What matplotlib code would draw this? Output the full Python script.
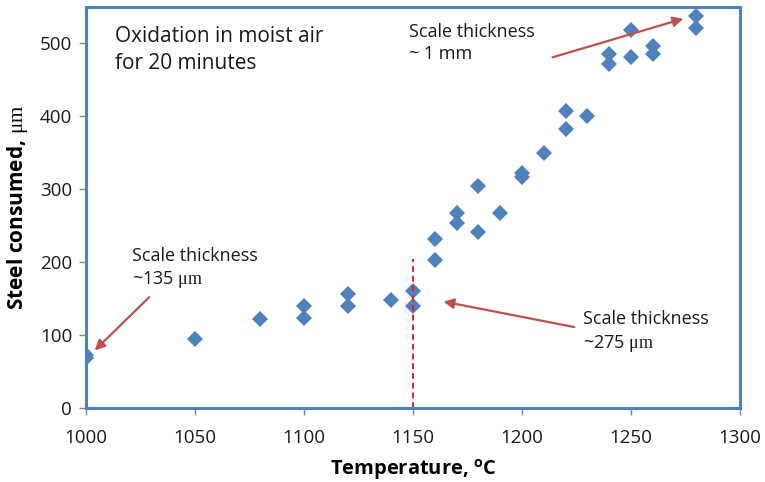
import matplotlib
matplotlib.use("Agg")
import matplotlib.pyplot as plt

# steel consumed vs oxidation temperature (20 min, moist air)
temp = [1000, 1000, 1050, 1080, 1100, 1100, 1120, 1120, 1140, 1150, 1150,
        1160, 1160, 1170, 1170, 1180, 1180, 1190, 1200, 1200, 1210,
        1220, 1220, 1230, 1240, 1240, 1250, 1250, 1260, 1260, 1280, 1280]
consumed = [68, 73, 94, 122, 140, 124, 156, 140, 148, 160, 140,
            232, 203, 268, 254, 304, 242, 268, 323, 317, 350,
            408, 382, 400, 486, 472, 519, 481, 497, 486, 538, 521]

xticks = [1000, 1050, 1100, 1150, 1200, 1250, 1300]
yticks = [0, 100, 200, 300, 400, 500]
transition_t = 1150
transition_top = 205

BLUE = "#4F81BD"
ARROW = "#C0504D"
DASH = "#E0242A"

plt.rcParams["font.family"] = ["Open Sans", "DejaVu Sans"]
plt.rcParams["mathtext.fontset"] = "custom"
plt.rcParams["mathtext.rm"] = "Liberation Serif"
plt.rcParams["mathtext.it"] = "Liberation Serif:italic"
plt.rcParams["mathtext.bf"] = "Open Sans:bold"

fig = plt.figure(figsize=(7.65, 4.82), dpi=100)
ax = fig.add_axes([0.1124, 0.1535, 0.8549, 0.832])

ax.plot(temp, consumed, "D", color=BLUE, markersize=8.5, markeredgewidth=0)
ax.plot([transition_t, transition_t], [0, transition_top], "--",
        color=DASH, lw=1.4, dashes=(3, 2))

ax.set_xlim(1000, 1300)
ax.set_ylim(0, 550)
ax.set_xticks(xticks)
ax.set_yticks(yticks)
for s in ax.spines.values():
    s.set_color(BLUE)
    s.set_linewidth(2.2)
ax.tick_params(direction="out", length=5, width=1, color="#888888",
               labelsize=13.5, labelcolor="#1a1a1a")
ax.tick_params(axis="x", pad=10)
ax.tick_params(axis="y", pad=5)

ax.set_xlabel(r"Temperature, $^{\mathbf{o}}$C", fontsize=14.5,
              fontweight="bold", labelpad=8)
ax.set_ylabel(r"Steel consumed, $\mathrm{\mu m}$", fontsize=15,
              fontweight="bold", labelpad=7)

ax.text(1013.5, 524, "Oxidation in moist air\nfor 20 minutes",
        fontsize=15, color="#1a1a1a", va="top", linespacing=1.35)

txt = dict(fontsize=13, color="#1a1a1a", va="top", linespacing=1.3)
ax.text(1148, 528, "Scale thickness\n~ 1 mm", **txt)
ax.text(1021, 221, "Scale thickness\n~135 $\\mathrm{\\mu m}$", **txt)
ax.text(1228, 134, "Scale thickness\n~275 $\\mathrm{\\mu m}$", **txt)

arrow = dict(arrowstyle="-|>,head_length=0.6,head_width=0.3",
             color=ARROW, lw=1.6, shrinkA=0, shrinkB=0)
ax.annotate("", xy=(1274, 534), xytext=(1214, 481), arrowprops=arrow)
ax.annotate("", xy=(1004, 79), xytext=(1029, 152), arrowprops=arrow)
ax.annotate("", xy=(1164, 146), xytext=(1224, 111), arrowprops=arrow)

fig.savefig("out.png", dpi=100)
